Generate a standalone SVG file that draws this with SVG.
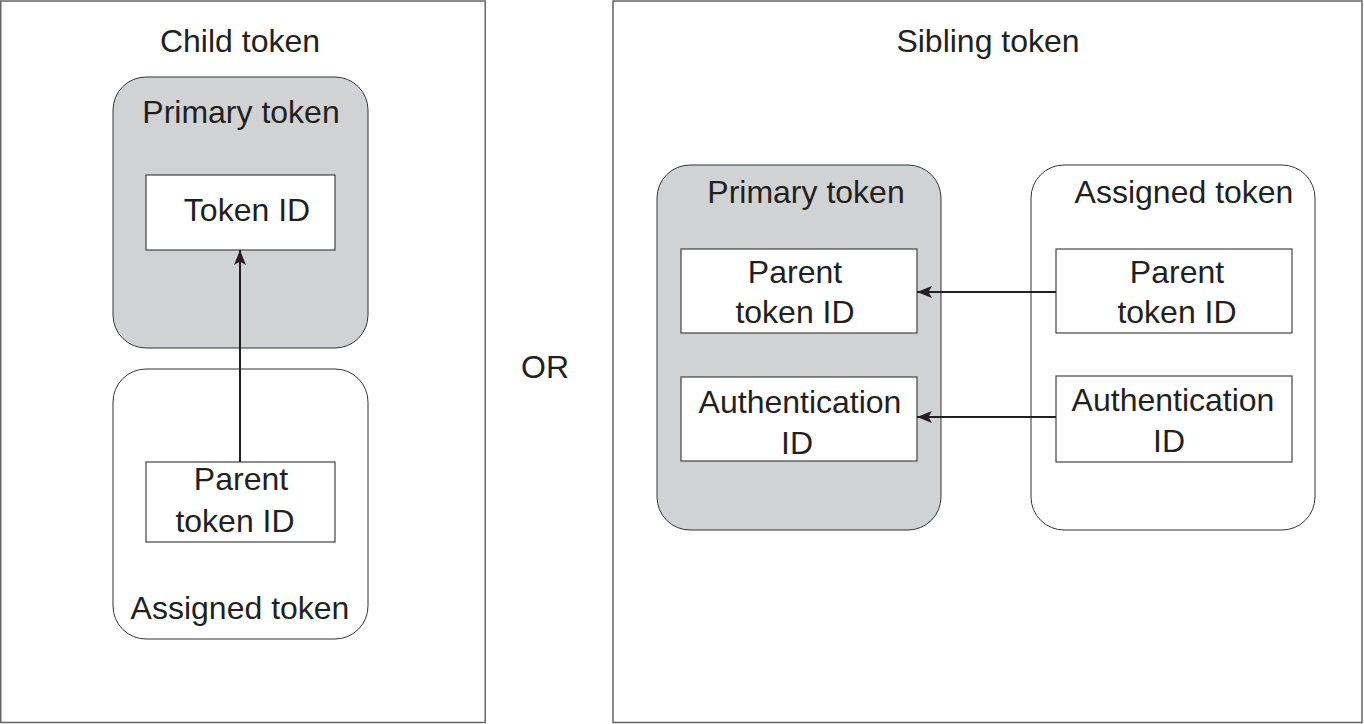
<svg xmlns="http://www.w3.org/2000/svg" width="1364" height="724" viewBox="0 0 1364 724">
<style>
text{font-family:"Liberation Sans",Arial,sans-serif;font-size:32px;fill:#231f20;text-anchor:middle}
.frame{fill:#fff;stroke:#666;stroke-width:1.5}
.grp{stroke:#333;stroke-width:1}
.gray{fill:#d1d2d4}
.white{fill:#fff}
.box{fill:#fff;stroke:#444;stroke-width:1.2}
.conn{stroke:#231f20;stroke-width:2;fill:none;marker-end:url(#arr)}
</style>
<defs>
<marker id="arr" markerUnits="userSpaceOnUse" markerWidth="18" markerHeight="14" refX="15" refY="6" orient="auto">
<path d="M0,0 L15,6 L0,12 L3.5,6 Z" fill="#231f20"/>
</marker>
</defs>
<rect width="1364" height="724" fill="#fff"/>
<g id="child-frame">
<rect class="frame" x="0.75" y="1" width="484.5" height="721.5"/>
<text x="240" y="52">Child token</text>
</g>
<g id="child-primary">
<rect class="grp gray" x="113" y="77" width="255" height="271" rx="33"/>
<text x="241" y="123">Primary token</text>
</g>
<g id="child-token-id">
<rect class="box" x="146" y="175" width="189" height="75"/>
<text x="247" y="221">Token ID</text>
</g>
<g id="child-assigned">
<rect class="grp white" x="113" y="369" width="255" height="270" rx="33"/>
<text x="240" y="619">Assigned token</text>
</g>
<g id="child-parent-id">
<rect class="box" x="146" y="462" width="189" height="80"/>
<text x="241" y="490">Parent</text>
<text x="235" y="532">token ID</text>
</g>
<g id="or">
<text x="545" y="378">OR</text>
</g>
<g id="sibling-frame">
<rect class="frame" x="613" y="1" width="749" height="721.5"/>
<text x="988" y="52">Sibling token</text>
</g>
<g id="sib-primary">
<rect class="grp gray" x="657" y="165" width="284" height="365" rx="33"/>
<text x="806" y="203">Primary token</text>
</g>
<g id="sib-primary-parent">
<rect class="box" x="681" y="249" width="236" height="84"/>
<text x="795" y="283">Parent</text>
<text x="795" y="323">token ID</text>
</g>
<g id="sib-primary-auth">
<rect class="box" x="681" y="377" width="236" height="84"/>
<text x="800" y="413">Authentication</text>
<text x="797" y="454">ID</text>
</g>
<g id="sib-assigned">
<rect class="grp white" x="1031" y="165" width="284" height="365" rx="33"/>
<text x="1184" y="203">Assigned token</text>
</g>
<g id="sib-assigned-parent">
<rect class="box" x="1056" y="249" width="236" height="84"/>
<text x="1177" y="283">Parent</text>
<text x="1177" y="323">token ID</text>
</g>
<g id="sib-assigned-auth">
<rect class="box" x="1056" y="376" width="236" height="86"/>
<text x="1173" y="411">Authentication</text>
<text x="1169" y="452">ID</text>
</g>
<g id="connectors">
<line class="conn" x1="240" y1="462" x2="240" y2="250"/>
<line class="conn" x1="1056" y1="292" x2="917" y2="292"/>
<line class="conn" x1="1056" y1="417" x2="917" y2="417"/>
</g>
</svg>
